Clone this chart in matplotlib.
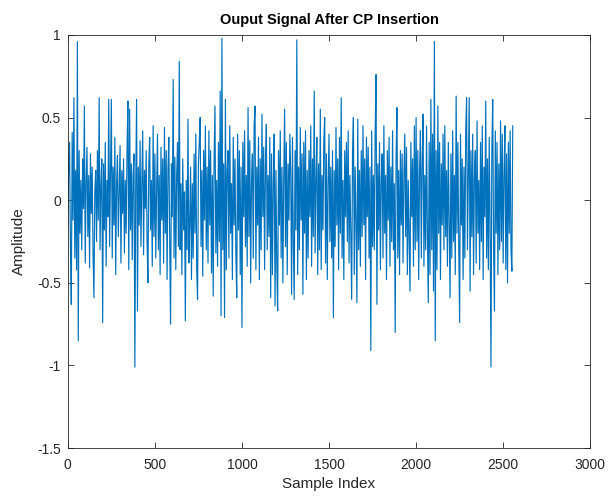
"""Output signal after cyclic-prefix insertion, MATLAB-style line plot."""
import numpy as np
import matplotlib
matplotlib.use("Agg")
import matplotlib.pyplot as plt
from matplotlib.ticker import FormatStrFormatter

plt.rcParams["font.family"] = ["Liberation Sans", "DejaVu Sans"]

# amplitude, one value every STEP samples
STEP = 5
AMPLITUDE = [
    -0.15, 0.22, 0.35, -0.28, -0.63, 0.41, -0.12, 0.62, -0.35, 0.18, -0.42, 0.96, -0.85, 0.30, -0.20, 0.12,
    -0.30, 0.25, -0.05, 0.57, -0.38, 0.10, 0.32, -0.22, 0.15, -0.41, 0.28, -0.08, 0.20, -0.33, -0.59, 0.05,
    0.18, -0.25, 0.30, -0.12, 0.62, -0.30, 0.08, 0.25, -0.74, 0.22, -0.18, 0.35, -0.40, 0.12, -0.10, 0.61,
    -0.28, 0.15, 0.61, -0.35, 0.20, -0.15, 0.38, -0.45, 0.10, 0.27, -0.22, 0.05, 0.33, -0.38, 0.18, -0.08,
    0.25, -0.32, 0.12, -0.20, 0.30, 0.60, -0.42, 0.55, -0.18, 0.22, -0.36, 0.15, 0.28, -1.01, 0.10, 0.61,
    -0.67, 0.20, -0.15, 0.36, -0.28, 0.10, 0.42, -0.33, 0.18, -0.05, 0.30, -0.25, -0.50, 0.22, 0.38, -0.18,
    0.12, -0.40, 0.45, -0.22, 0.28, -0.35, 0.08, 0.40, -0.30, 0.15, -0.45, 0.32, -0.12, 0.25, -0.38, 0.44,
    -0.20, 0.30, -0.48, 0.18, 0.38, -0.25, -0.75, 0.22, -0.10, 0.73, -0.35, 0.26, -0.42, 0.15, 0.35, -0.28,
    0.84, -0.30, 0.10, -0.45, 0.25, -0.18, 0.05, -0.73, 0.12, -0.30, 0.49, -0.38, -0.15, 0.20, -0.48, 0.10,
    -0.35, 0.28, -0.20, 0.40, -0.42, -0.60, 0.22, 0.35, 0.50, -0.28, 0.18, -0.46, 0.30, -0.12, 0.45, -0.30,
    0.20, -0.38, 0.42, -0.15, 0.30, -0.44, 0.15, -0.58, 0.25, 0.57, -0.32, 0.12, -0.40, 0.35, -0.25, 0.66,
    -0.70, 0.98, -0.30, 0.22, -0.71, 0.61, -0.42, 0.18, 0.30, -0.35, 0.45, -0.20, 0.10, -0.48, 0.38, -0.15,
    0.25, -0.32, -0.59, 0.40, -0.18, 0.30, -0.45, 0.20, -0.77, 0.35, -0.10, 0.42, -0.28, 0.15, -0.40, 0.56,
    -0.22, 0.36, -0.50, 0.12, 0.28, -0.35, 0.45, 0.57, -0.42, 0.20, -0.15, 0.38, -0.48, 0.25, -0.30, 0.52,
    -0.10, 0.32, -0.42, 0.20, 0.46, -0.30, 0.15, -0.22, 0.38, -0.59, 0.28, -0.45, 0.10, 0.40, -0.64, 0.18,
    -0.40, -0.67, 0.30, -0.15, 0.42, -0.35, 0.20, -0.50, 0.12, 0.55, -0.28, 0.35, -0.45, 0.22, -0.12, 0.40,
    0.15, -0.57, 0.38, -0.25, -0.60, 0.30, -0.18, 0.97, -0.45, 0.20, -0.30, 0.44, -0.12, 0.28, -0.57, 0.35,
    -0.20, 0.42, -0.48, 0.18, -0.35, 0.30, -0.10, 0.45, -0.40, 0.25, -0.22, 0.66, -0.32, 0.12, 0.38, -0.45,
    0.22, -0.30, 0.55, -0.42, 0.15, -0.18, 0.35, 0.50, -0.38, 0.28, -0.48, 0.10, 0.40, -0.25, 0.20, -0.35,
    0.30, -0.71, 0.18, -0.28, 0.44, -0.15, 0.25, -0.42, 0.38, -0.20, 0.62, -0.35, 0.12, -0.48, 0.30, -0.10,
    0.35, -0.25, 0.42, -0.38, 0.15, -0.20, -0.60, 0.28, 0.50, -0.45, 0.20, -0.12, -0.62, 0.49, -0.30, 0.18,
    -0.40, 0.30, -0.22, 0.45, -0.15, 0.25, -0.48, 0.38, -0.10, 0.32, -0.35, 0.20, -0.91, 0.42, -0.28, 0.15,
    -0.30, 0.40, 0.76, -0.63, 0.22, -0.18, 0.35, -0.42, 0.12, 0.28, -0.35, 0.45, -0.20, 0.15, -0.48, 0.30,
    -0.12, 0.38, -0.40, 0.20, -0.25, 0.42, -0.30, 0.10, -0.80, 0.25, 0.56, -0.35, 0.18, -0.45, 0.30, -0.15,
    0.28, -0.38, 0.15, 0.40, -0.22, 0.32, -0.45, 0.12, -0.20, -0.55, 0.35, -0.10, 0.25, -0.40, 0.45, -0.30,
    0.50, -0.25, 0.30, -0.48, 0.18, 0.42, -0.35, 0.22, 0.52, -0.40, 0.15, -0.30, 0.45, -0.20, -0.62, 0.35,
    -0.45, 0.61, -0.30, 0.40, -0.55, 0.96, -0.85, 0.30, -0.42, 0.57, -0.20, 0.35, -0.48, 0.22, -0.15, 0.40,
    -0.30, 0.45, -0.22, 0.18, -0.40, 0.35, -0.12, -0.59, 0.28, -0.35, 0.42, -0.25, 0.15, -0.45, 0.63, -0.20,
    0.35, -0.28, -0.74, 0.40, -0.15, 0.25, -0.48, 0.20, -0.35, 0.42, 0.62, -0.30, 0.18, 0.62, -0.55, 0.30,
    -0.22, 0.40, -0.45, 0.15, 0.30, -0.38, 0.48, -0.20, 0.12, -0.42, 0.35, -0.25, 0.45, -0.48, 0.20, -0.10,
    0.60, -0.35, 0.25, -0.42, 0.38, -0.15, -1.01, 0.30, 0.61, -0.28, -0.67, 0.42, -0.20, 0.35, -0.45, 0.22,
    -0.30, 0.48, -0.25, 0.40, -0.38, 0.15, 0.45, -0.42, 0.28, -0.50, 0.35, -0.20, 0.42, -0.30, -0.43, 0.45,
]

X_TICKS = [0, 500, 1000, 1500, 2000, 2500, 3000]
Y_TICKS = [-1.5, -1, -0.5, 0, 0.5, 1]

sample_index = np.arange(len(AMPLITUDE)) * STEP

fig = plt.figure(figsize=(6.11, 4.99), dpi=100)
ax = fig.add_axes([0.111, 0.102, 0.855, 0.828])
ax.plot(sample_index, AMPLITUDE, color="#0072BD", linewidth=0.85)

ax.set_xlim(0, 3000)
ax.set_ylim(-1.5, 1)
ax.set_xticks(X_TICKS)
ax.set_yticks(Y_TICKS)
ax.yaxis.set_major_formatter(FormatStrFormatter("%g"))
ax.tick_params(direction="in", length=4, width=0.6, top=True, right=True,
               labelsize=10, colors="#262626")
ax.tick_params(axis="x", pad=7)
ax.tick_params(axis="y", pad=5)
for side in ax.spines.values():
    side.set_linewidth(0.6)
    side.set_color("#262626")

ax.set_title("Ouput Signal After CP Insertion", fontsize=10.5, fontweight="bold", pad=8)
ax.set_xlabel("Sample Index", fontsize=11, color="#262626", labelpad=4)
ax.set_ylabel("Amplitude", fontsize=11, color="#262626", labelpad=8)

fig.savefig("out.png", dpi=100)
